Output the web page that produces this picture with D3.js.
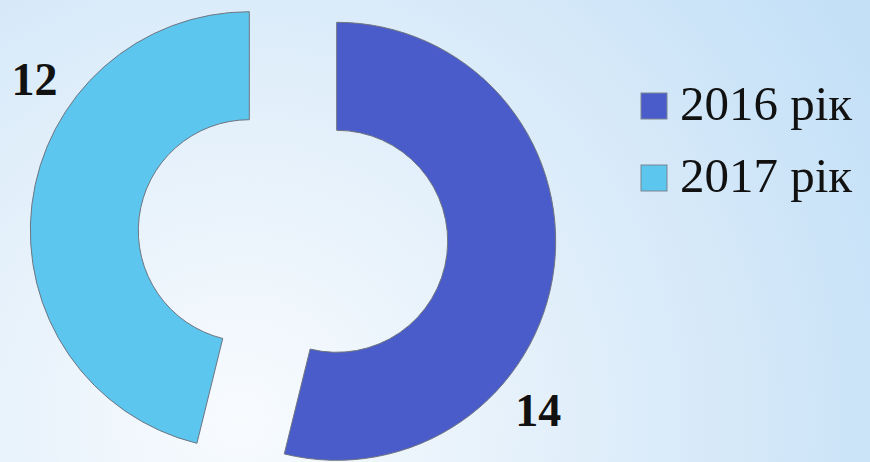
<!DOCTYPE html>
<html>
<head>
<meta charset="utf-8">
<script src="https://cdn.jsdelivr.net/npm/d3@7"></script>
<style>
  html, body { margin: 0; padding: 0; }
  body { width: 870px; height: 462px; overflow: hidden; }
</style>
</head>
<body>
<div id="chart"></div>
<script>
// data
var years = ["2016 рік", "2017 рік"];
var values = [14, 12];
var colors = ["#4a5cc9", "#5cc6ef"];

function init() {
    var w = 870;
    var h = 462;
    var cx = 293, cy = 236;
    var outerR = 219, innerR = 111;
    var explode = 44;

    var svg = d3.select("#chart")
        .append("svg")
        .attr("width", w)
        .attr("height", h);

    // background gradient
    var defs = svg.append("defs");
    var grad = defs.append("radialGradient")
        .attr("id", "bg")
        .attr("gradientUnits", "userSpaceOnUse")
        .attr("cx", 240).attr("cy", 420).attr("r", 720);
    grad.append("stop").attr("offset", "0").attr("stop-color", "#f8fbfe");
    grad.append("stop").attr("offset", "0.45").attr("stop-color", "#e2effa");
    grad.append("stop").attr("offset", "1").attr("stop-color", "#c4e0f7");

    svg.append("rect")
        .attr("width", w)
        .attr("height", h)
        .attr("fill", "url(#bg)");

    var color = d3.scaleOrdinal().domain(years).range(colors);

    var pie = d3.pie().sort(null).value(d => d.value);
    var data = years.map((y, i) => ({ year: y, value: values[i] }));
    var arcs = pie(data);

    var arc = d3.arc().innerRadius(innerR).outerRadius(outerR);

    var g = svg.append("g").attr("transform", "translate(" + cx + "," + cy + ")");

    var slice = g.selectAll("g.slice")
        .data(arcs)
        .enter()
        .append("g")
        .attr("class", "slice")
        .attr("transform", function(d) {
            var a = (d.startAngle + d.endAngle) / 2;
            return "translate(" + (Math.sin(a) * explode) + "," + (-Math.cos(a) * explode) + ")";
        });

    slice.append("path")
        .attr("d", arc)
        .attr("fill", d => color(d.data.year))
        .attr("stroke", "#6f7580")
        .attr("stroke-width", 1);

    // value labels outside the ring, about two thirds along each slice
    var labelR = outerR * 1.2;
    slice.append("text")
        .attr("x", function(d) {
            var a = d.startAngle + (d.endAngle - d.startAngle) * 0.67;
            return Math.sin(a) * labelR;
        })
        .attr("y", function(d) {
            var a = d.startAngle + (d.endAngle - d.startAngle) * 0.67;
            return -Math.cos(a) * labelR;
        })
        .attr("dy", "0.35em")
        .attr("text-anchor", "middle")
        .attr("font-family", "'Liberation Serif', serif")
        .attr("font-weight", "bold")
        .attr("font-size", 46)
        .attr("fill", "#111")
        .text(d => d.value);

    // legend
    var legend = svg.append("g").attr("transform", "translate(641,93)");
    var item = legend.selectAll("g")
        .data(years)
        .enter()
        .append("g")
        .attr("transform", (d, i) => "translate(0," + (i * 72) + ")");

    item.append("rect")
        .attr("width", 26)
        .attr("height", 26)
        .attr("fill", d => color(d))
        .attr("stroke", "#7a8594")
        .attr("stroke-width", 1);

    item.append("text")
        .attr("x", 39)
        .attr("y", 27)
        .attr("font-family", "'Liberation Serif', serif")
        .attr("font-size", 49)
        .attr("fill", "#111")
        .text(d => d);
}

window.onload = init;
</script>
</body>
</html>
